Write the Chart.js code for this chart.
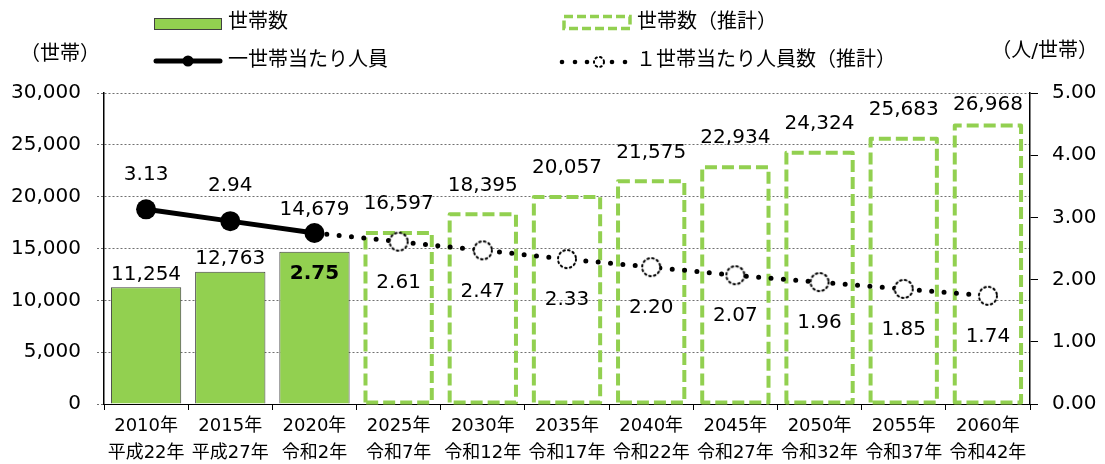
<!DOCTYPE html>
<html>
<head>
<meta charset="utf-8">
<script src="https://cdn.jsdelivr.net/npm/chart.js@4.4.0/dist/chart.umd.min.js"></script>
<style>
html,body{margin:0;padding:0;background:#fff;}
#wrap{width:1105px;height:464px;position:relative;}
</style>
</head>
<body>
<div id="wrap"><canvas id="c" width="1105" height="464"></canvas></div>
<script>
// ---- data ----
const years = ['2010年','2015年','2020年','2025年','2030年','2035年','2040年','2045年','2050年','2055年','2060年'];
const eras = ['平成22年','平成27年','令和2年','令和7年','令和12年','令和17年','令和22年','令和27年','令和32年','令和37年','令和42年'];
const householdsActual = [11254,12763,14679,null,null,null,null,null,null,null,null];
const householdsProjected = [null,null,null,16597,18395,20057,21575,22934,24324,25683,26968];
const perHouseholdActual = [3.13,2.94,2.75,null,null,null,null,null,null,null,null];
const perHouseholdProjected = [null,null,2.75,2.61,2.47,2.33,2.20,2.07,1.96,1.85,1.74];
const legendLabels = ['世帯数','一世帯当たり人員','世帯数（推計）','１世帯当たり人員数（推計）'];
const leftAxisTitle = '（世帯）';
const rightAxisTitle = '（人/世帯）';

const FONT = "'DejaVu Sans','Noto Sans CJK JP',sans-serif";
const GREEN = '#92D050';

// dotted-circle marker for projected points
function makeMarker(r){
  const s = Math.ceil(r*2+6);
  const cv = document.createElement('canvas'); cv.width = s; cv.height = s;
  const g = cv.getContext('2d');
  g.beginPath(); g.arc(s/2, s/2, r, 0, Math.PI*2);
  g.fillStyle = '#fff'; g.fill();
  g.setLineDash([1.6,3.2]); g.lineWidth = 2; g.strokeStyle = '#000'; g.lineCap='round';
  g.stroke();
  return cv;
}
const marker = makeMarker(9);
const legendMarker = makeMarker(5);

const fmt = v => v.toLocaleString('en-US');

const dashedBars = {
  id: 'dashedBars',
  afterDatasetDraw(chart, args){
    if (args.index !== 3) return;
    const ctx = chart.ctx;
    const meta = chart.getDatasetMeta(3);
    ctx.save();
    ctx.strokeStyle = GREEN; ctx.lineWidth = 4; ctx.setLineDash([12,5]); ctx.lineJoin='round';
    meta.data.forEach((el, i) => {
      if (householdsProjected[i] == null) return;
      const half = el.width/2 - 2;
      const top = el.y + 1, bot = el.base - 1;
      ctx.beginPath();
      ctx.moveTo(el.x - half, bot);
      ctx.lineTo(el.x - half, top);
      ctx.lineTo(el.x + half, top);
      ctx.lineTo(el.x + half, bot);
      ctx.closePath();
      ctx.stroke();
    });
    ctx.restore();
  }
};

const valueLabels = {
  id: 'valueLabels',
  afterDatasetsDraw(chart){
    const ctx = chart.ctx, area = chart.chartArea;
    const lineA = chart.getDatasetMeta(0).data, lineP = chart.getDatasetMeta(1).data;
    const barA = chart.getDatasetMeta(2).data, barP = chart.getDatasetMeta(3).data;
    ctx.save();
    ctx.fillStyle = '#000'; ctx.textAlign = 'center'; ctx.textBaseline = 'middle';
    for (let i = 0; i < years.length; i++){
      const isProj = householdsActual[i] == null;
      const v = isProj ? householdsProjected[i] : householdsActual[i];
      const bar = (isProj ? barP : barA)[i];
      const ratioActual = perHouseholdActual[i] != null;
      const r = ratioActual ? perHouseholdActual[i] : perHouseholdProjected[i];
      const pt = (ratioActual ? lineA : lineP)[i];
      let by = bar.y - (isProj ? 28 : 13);
      const nearLine = pt.y < bar.y && bar.y - pt.y < 30;
      if (nearLine) by = pt.y - 23;
      by = Math.max(by, area.top + 12);
      ctx.font = `20px ${FONT}`;
      ctx.fillText(fmt(v), bar.x, by);
      const below = pt.y > bar.y - 30;
      const ry = below ? pt.y + 41 : pt.y - 35;
      ctx.font = (below && !isProj ? 'bold ' : '') + `20px ${FONT}`;
      ctx.fillText(r.toFixed(2), pt.x, ry);
    }
    ctx.restore();
  }
};

const legendPlugin = {
  id: 'customLegend',
  afterDraw(chart){
    const ctx = chart.ctx;
    ctx.save();
    ctx.font = `20px ${FONT}`; ctx.fillStyle = '#000'; ctx.textBaseline = 'middle'; ctx.textAlign = 'left';
    // green box
    ctx.fillStyle = GREEN; ctx.fillRect(154.5, 18.5, 67, 11);
    ctx.strokeStyle = '#404040'; ctx.lineWidth = 1; ctx.strokeRect(154.5, 18.5, 67, 11);
    ctx.fillStyle = '#000';
    ctx.fillText(legendLabels[0], 228, 23);
    // solid line w/ marker
    ctx.strokeStyle = '#000'; ctx.lineWidth = 5; ctx.lineCap = 'round';
    ctx.beginPath(); ctx.moveTo(156, 61); ctx.lineTo(220, 61); ctx.stroke();
    ctx.beginPath(); ctx.arc(188, 61, 5.5, 0, Math.PI*2); ctx.fillStyle = '#000'; ctx.fill();
    ctx.fillText(legendLabels[1], 228, 61);
    // dashed box
    ctx.strokeStyle = GREEN; ctx.lineWidth = 3.5; ctx.lineCap = 'butt'; ctx.setLineDash([9,4]);
    ctx.strokeRect(564, 16.5, 66, 12);
    ctx.setLineDash([]);
    ctx.fillText(legendLabels[2], 637, 23);
    // dotted line w/ marker
    [562, 575, 587, 612, 625].forEach(x => { ctx.beginPath(); ctx.arc(x, 62, 2.3, 0, Math.PI*2); ctx.fill(); });
    ctx.drawImage(legendMarker, 599 - legendMarker.width/2, 62 - legendMarker.height/2);
    ctx.fillText(legendLabels[3], 636, 61);
    // axis titles
    ctx.fillText(leftAxisTitle, 20, 55);
    ctx.textAlign = 'right';
    ctx.fillText(rightAxisTitle, 1098, 52);
    ctx.restore();
  }
};

Chart.defaults.font.family = FONT;
Chart.defaults.color = '#000';

new Chart(document.getElementById('c'), {
  type: 'bar',
  data: {
    labels: years.map((y, i) => [y, eras[i]]),
    datasets: [
      { type: 'line', label: legendLabels[1], data: perHouseholdActual, yAxisID: 'y1', order: 0,
        borderColor: '#000', borderWidth: 5, pointRadius: 10, pointBackgroundColor: '#000',
        pointBorderColor: '#000', pointBorderWidth: 0, spanGaps: false },
      { type: 'line', label: legendLabels[3], data: perHouseholdProjected, yAxisID: 'y1', order: 1,
        borderColor: '#000', borderWidth: 5, borderDash: [0, 12.4], borderCapStyle: 'round',
        pointStyle: ctx => ctx.dataIndex >= 3 ? marker : 'circle',
        pointRadius: ctx => ctx.dataIndex >= 3 ? 9 : 0 },
      { type: 'bar', label: legendLabels[0], data: householdsActual, yAxisID: 'y', order: 2,
        backgroundColor: GREEN, borderColor: '#404040', borderWidth: 1, grouped: false,
        barPercentage: 0.835, categoryPercentage: 1 },
      { type: 'bar', label: legendLabels[2], data: householdsProjected, yAxisID: 'y', order: 3,
        backgroundColor: 'rgba(0,0,0,0)', borderWidth: 0, grouped: false,
        barPercentage: 0.835, categoryPercentage: 1 }
    ]
  },
  options: {
    responsive: false,
    devicePixelRatio: 1,
    animation: false,
    layout: { padding: { top: 93, left: 0, right: 0, bottom: 0 } },
    plugins: { legend: { display: false }, tooltip: { enabled: false } },
    scales: {
      x: {
        offset: true,
        grid: { display: true, drawOnChartArea: false, drawTicks: true, tickLength: 6, color: '#000', offset: true },
        border: { color: '#000', width: 1 },
        ticks: { font: { size: 18, lineHeight: 1.5 }, padding: 3, color: '#000', maxRotation: 0, autoSkip: false },
        afterFit: s => { s.height = 60; }
      },
      y: {
        position: 'left', min: 0, max: 30000,
        ticks: { stepSize: 5000, font: { size: 20 }, padding: 16, color: '#000', callback: v => fmt(v) },
        grid: { color: '#707070', lineWidth: 1, tickLength: 7, tickBorderDash: [2,2], tickColor: '#707070' },
        border: { color: '#000', width: 1.5, dash: [2,2] },
        afterFit: s => { s.width = 104; }
      },
      y1: {
        position: 'right', min: 0, max: 5,
        ticks: { stepSize: 1, font: { size: 20 }, padding: 14, color: '#000', callback: v => v.toFixed(2) },
        grid: { drawOnChartArea: false, tickLength: 8, color: '#000' },
        border: { color: '#000', width: 1.5 },
        afterFit: s => { s.width = 75; }
      }
    }
  },
  plugins: [dashedBars, valueLabels, legendPlugin]
});
</script>
</body>
</html>
